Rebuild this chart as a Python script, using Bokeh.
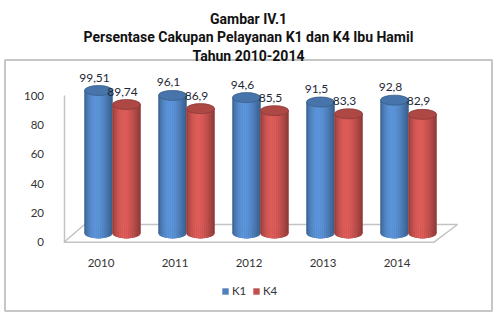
import math

from bokeh.core.properties import value
from bokeh.embed import file_html
from bokeh.models import (ColumnDataSource, FixedTicker, Legend, LegendItem,
                          LinearAxis, Range1d)
from bokeh.plotting import figure
from bokeh.resources import INLINE

# ---- data -------------------------------------------------------------
years = ["2010", "2011", "2012", "2013", "2014"]
k1 = [99.51, 96.1, 94.6, 91.5, 92.8]
k4 = [89.74, 86.9, 85.5, 83.3, 82.9]
y_ticks = [0, 20, 40, 60, 80, 100]
title_lines = [
    "Gambar IV.1",
    "Persentase Cakupan Pelayanan K1 dan K4 Ibu Hamil",
    "Tahun 2010-2014",
]

# ---- geometry of the pseudo-3D scene (pixels) -------------------------
W, H = 496, 315
CAT_PX = 74.0      # horizontal distance between categories
X0_PX = 100.5      # x of the first category on the front edge of the floor
Y0_PX = 241.7      # y of value 0 on the front plane
UNIT_PX = 1.467    # pixels per percentage point on the front plane
COL_DX_PX = 11.5   # columns stand half-way back on the floor ...
COL_Y0_PX = 233.0  # ... so their base is higher
COL_UNIT_PX = 1.437  # and they are slightly foreshortened
BAR_W = 28.0 / CAT_PX          # width of one cylinder, in category units
CAP_H = 10.0 / COL_UNIT_PX     # height of the elliptical caps, in value units
N_STRIPS = 14

BLUE = (79, 129, 189)
RED = (192, 80, 77)
GRID_GREY = "#c3c3c3"

FONT = "Lato"
TITLE_FONT = "Roboto"


def hexcol(rgb, k):
    return "#%02x%02x%02x" % tuple(max(0, min(255, int(round(c * k)))) for c in rgb)


def shade(u):
    """Brightness across a cylinder, u = 0 at the left edge, 1 at the right."""
    s = math.sin(math.pi * (u ** 0.8))
    return 0.70 + 0.46 * s


p = figure(
    width=W, height=H,
    x_range=Range1d(-X0_PX / CAT_PX, (W - X0_PX) / CAT_PX),
    y_range=Range1d(-(H - Y0_PX) / UNIT_PX, Y0_PX / UNIT_PX),
    x_axis_location=None, y_axis_location=None,
    toolbar_location=None, tools="",
    output_backend="svg", min_border=0,
)
p.outline_line_color = None
p.grid.visible = False
p.background_fill_color = "white"
p.border_fill_color = "white"

# range for the columns (mid-depth plane) and a plain pixel range for decoration
p.extra_x_ranges = {
    "col": Range1d(-(X0_PX + COL_DX_PX) / CAT_PX, (W - X0_PX - COL_DX_PX) / CAT_PX),
    "px": Range1d(0, W),
}
p.extra_y_ranges = {
    "col": Range1d(-(H - COL_Y0_PX) / COL_UNIT_PX, COL_Y0_PX / COL_UNIT_PX),
    "px": Range1d(H, 0),
}

# chart-area frame
p.quad(left=[4.5], right=[491.5], top=[59.5], bottom=[310.5],
       x_range_name="px", y_range_name="px",
       fill_color=None, line_color="#c6c6c6", line_width=2)

# title
for line, base in zip(title_lines, [18.3, 36.7, 55.0]):
    p.text(x=[W / 2], y=[base], text=[line], x_range_name="px", y_range_name="px",
           text_align="center", text_baseline="alphabetic",
           text_font=value(TITLE_FONT), text_font_style="bold",
           text_font_size="14px", text_color="#111111")

# floor of the 3D plot
n = len(years)
p.patch(x=[-0.5, n - 0.5, n - 0.5 + 0.318, -0.5 + 0.277],
        y=[0, 0, 12.07, 12.07],
        fill_color="white", line_color=GRID_GREY, line_width=1.5)


def cylinders(vals, offset, rgb):
    xs = [i + offset for i in range(len(vals))]
    # base body, also used for the legend swatch
    body = p.vbar(x=xs, top=vals, bottom=0, width=BAR_W,
                  x_range_name="col", y_range_name="col",
                  fill_color=hexcol(rgb, 1.0), line_color=None)
    # bottom cap
    p.ellipse(x=xs, y=[0] * len(xs), width=BAR_W, height=CAP_H,
              x_range_name="col", y_range_name="col",
              fill_color=hexcol(rgb, 0.88), line_color=None)
    # shaded strips across each cylinder
    sx, st, sb, sc = [], [], [], []
    dw = BAR_W / N_STRIPS
    for x, v in zip(xs, vals):
        for k in range(N_STRIPS):
            u = (k + 0.5) / N_STRIPS
            t = max(abs(2 * k / N_STRIPS - 1), abs(2 * (k + 1) / N_STRIPS - 1))
            sx.append(x - BAR_W / 2 + (k + 0.5) * dw)
            st.append(v)
            sb.append(-CAP_H / 2 * math.sqrt(max(0.0, 1 - t * t)))
            sc.append(hexcol(rgb, shade(u)))
    src = ColumnDataSource(dict(x=sx, top=st, bottom=sb, color=sc))
    p.vbar(x="x", top="top", bottom="bottom", width=dw * 1.1, source=src,
           x_range_name="col", y_range_name="col",
           fill_color="color", line_color=None)
    # top cap
    p.ellipse(x=xs, y=vals, width=BAR_W, height=CAP_H,
              x_range_name="col", y_range_name="col",
              fill_color=hexcol(rgb, 0.90), line_color=hexcol(rgb, 0.72),
              line_width=0.8)
    # value labels
    p.text(x=xs, y=vals, text=[f"{v}".replace(".", ",") for v in vals],
           x_range_name="col", y_range_name="col",
           x_offset=-4, y_offset=-13, text_align="center", text_baseline="middle",
           text_font=value(FONT), text_font_size="12px", text_color="#1f2736")
    return body


body_k1 = cylinders(k1, -BAR_W / 2, BLUE)
body_k4 = cylinders(k4, BAR_W / 2, RED)

# value axis, drawn on the left wall
yaxis = LinearAxis(fixed_location=-0.5, bounds=(0, 100),
                   ticker=FixedTicker(ticks=y_ticks))
yaxis.axis_line_color = GRID_GREY
yaxis.axis_line_width = 1.5
yaxis.major_tick_line_color = None
yaxis.minor_tick_line_color = None
yaxis.major_label_standoff = 14
yaxis.major_label_text_font = FONT
yaxis.major_label_text_font_size = "11.5px"
yaxis.major_label_text_color = "#333333"
p.add_layout(yaxis, "left")

# category axis along the front edge of the floor
xaxis = LinearAxis(fixed_location=0, bounds=(-0.5, n - 0.5),
                   ticker=FixedTicker(ticks=list(range(n))),
                   major_label_overrides={i: y for i, y in enumerate(years)})
xaxis.axis_line_color = None
xaxis.major_tick_line_color = None
xaxis.minor_tick_line_color = None
xaxis.major_label_standoff = 11
xaxis.major_label_text_font = FONT
xaxis.major_label_text_font_size = "11.5px"
xaxis.major_label_text_color = "#333333"
p.add_layout(xaxis, "below")

legend = Legend(
    items=[LegendItem(label="K1", renderers=[body_k1]),
           LegendItem(label="K4", renderers=[body_k4])],
    orientation="horizontal", location=(221, 18),
    padding=0, margin=0, spacing=0,
    glyph_width=8, glyph_height=8, label_standoff=3, label_height=8,
    label_text_font=FONT, label_text_font_size="11.5px",
    label_text_color="#333333", label_text_baseline="middle",
    border_line_color=None, background_fill_alpha=0,
)
p.add_layout(legend)

open("out.html", "w").write(file_html(p, INLINE))
